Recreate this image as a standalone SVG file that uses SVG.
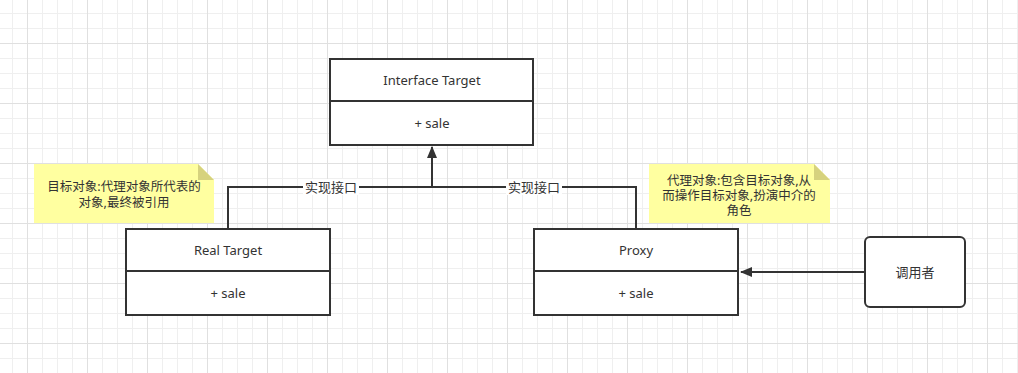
<svg xmlns="http://www.w3.org/2000/svg" width="1018" height="373" viewBox="0 0 1018 373">
<style>
.box{fill:#ffffff;stroke:#333333;stroke-width:2}
.div{stroke:#333333;stroke-width:2}
.conn{fill:none;stroke:#333333;stroke-width:2}
.t{font-family:"Noto Sans","Noto Sans CJK SC",sans-serif;font-size:13px;fill:#333333;text-anchor:middle;dominant-baseline:central}
.n{font-size:12.5px}
.note{fill:#ffffa0;stroke:none}
.fold{fill:#d6d27e;stroke:none}
.lbl{fill:#ffffff}
</style>
<defs>
<pattern id="grid" x="27" y="43" width="60" height="60" patternUnits="userSpaceOnUse">
<path d="M15.5 0V60M30.5 0V60M45.5 0V60M0 15.5H60M0 30.5H60M0 45.5H60" stroke="#efefef" stroke-width="1" fill="none"/>
<path d="M0.5 0V60M0 0.5H60" stroke="#e0e0e0" stroke-width="1" fill="none"/>
</pattern>
<marker id="tri" markerWidth="12" markerHeight="12" viewBox="0 0 12 12" refX="11" refY="6" orient="auto" markerUnits="userSpaceOnUse">
<path d="M0 1L12 6L0 11Z" fill="#333333"/>
</marker>
</defs>
<rect width="1018" height="373" fill="#ffffff"/>
<rect width="1018" height="373" fill="url(#grid)"/>
<g id="connectors">
<path class="conn" d="M432 187V147" marker-end="url(#tri)"/>
<path class="conn" d="M228 229V187H636V229"/>
<path class="conn" d="M865 272H741" marker-end="url(#tri)"/>
<rect class="lbl" x="303" y="179" width="56" height="16"/>
<text class="t" x="331" y="187">实现接口</text>
<rect class="lbl" x="506" y="179" width="56" height="16"/>
<text class="t" x="534" y="187">实现接口</text>
</g>
<g id="interface-target">
<rect class="box" x="330" y="59" width="203" height="86"/>
<line class="div" x1="330" y1="101" x2="533" y2="101"/>
<text class="t" x="432" y="80">Interface Target</text>
<text class="t" x="432" y="123">+ sale</text>
</g>
<g id="real-target">
<rect class="box" x="126" y="229" width="204" height="86"/>
<line class="div" x1="126" y1="271" x2="330" y2="271"/>
<text class="t" x="228" y="250">Real Target</text>
<text class="t" x="228" y="293">+ sale</text>
</g>
<g id="proxy">
<rect class="box" x="534" y="229" width="204" height="86"/>
<line class="div" x1="534" y1="271" x2="738" y2="271"/>
<text class="t" x="636" y="250">Proxy</text>
<text class="t" x="636" y="293">+ sale</text>
</g>
<g id="caller">
<rect class="box" x="865" y="237" width="100" height="70" rx="5" ry="5"/>
<text class="t" x="915" y="272">调用者</text>
</g>
<g id="note-real">
<path class="note" d="M34 164H198L214 180V223H34Z"/>
<path class="fold" d="M198 164L214 180H198Z"/>
<text class="t n" x="124" y="186">目标对象:代理对象所代表的</text>
<text class="t n" x="124" y="202">对象,最终被引用</text>
</g>
<g id="note-proxy">
<path class="note" d="M649 164H814L830 180V223H649Z"/>
<path class="fold" d="M814 164L830 180H814Z"/>
<text class="t n" x="739" y="180">代理对象:包含目标对象,从</text>
<text class="t n" x="739" y="195">而操作目标对象,扮演中介的</text>
<text class="t n" x="739" y="210">角色</text>
</g>
</svg>
